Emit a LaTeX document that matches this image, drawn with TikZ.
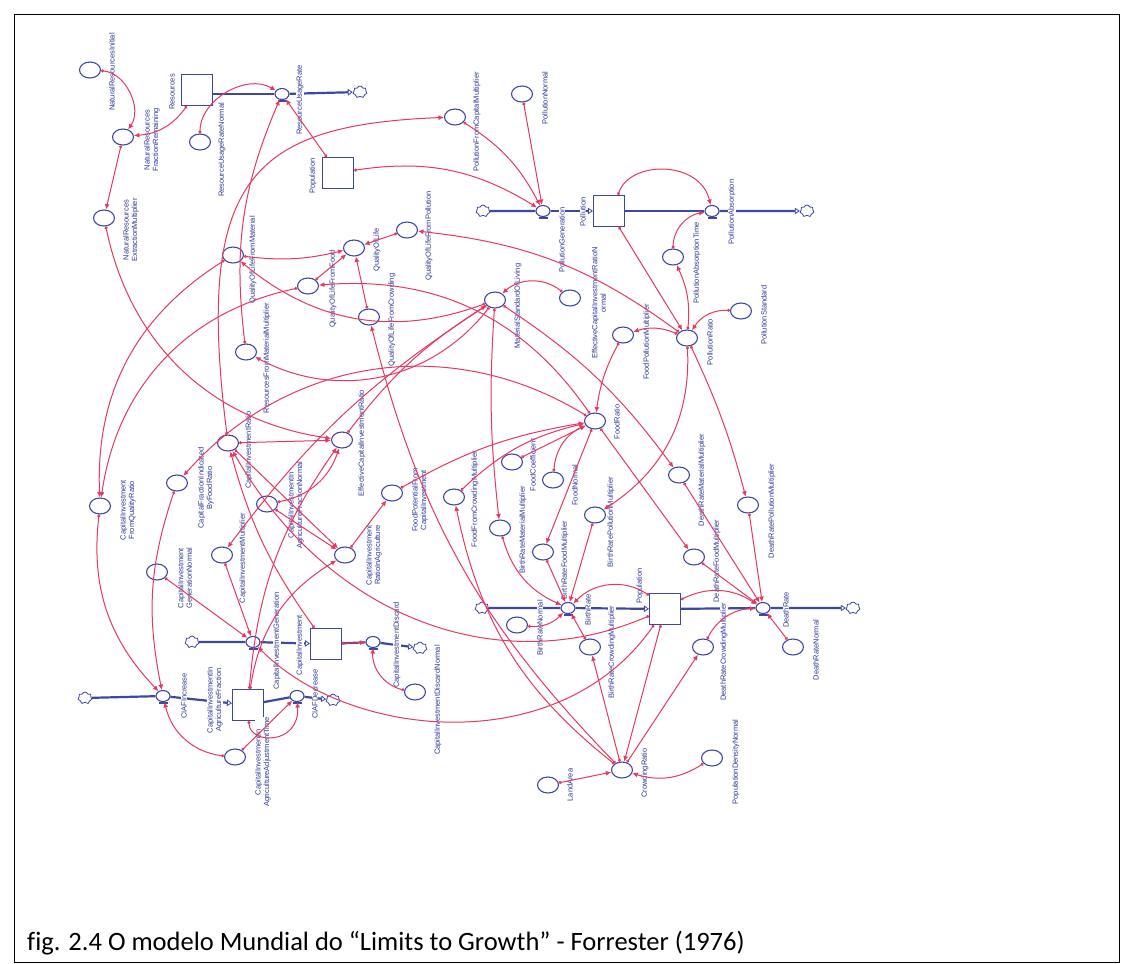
\documentclass[tikz,border=0pt]{standalone}
\usepackage{fontspec}
\setmainfont{Liberation Sans}
\newfontfamily\capfont[Ligatures=NoCommon]{Carlito}
\newfontfamily\lblfont{Liberation Sans}
\usetikzlibrary{arrows.meta,shapes.geometric,shapes.symbols}
\definecolor{cblue}{RGB}{62,72,160}
\definecolor{ctext}{RGB}{45,55,150}
\definecolor{cred}{RGB}{232,56,96}
\newcommand{\valvebase}[1]{\draw[cblue,line width=1.6pt] ([xshift=-4.5pt,yshift=-1.2pt]#1.south) -- ([xshift=4.5pt,yshift=-1.2pt]#1.south);}
\begin{document}
\begin{tikzpicture}[x=1pt,y=-1pt,
  aux/.style={ellipse,draw=cblue,line width=1.1pt,minimum width=21pt,minimum height=16pt,inner sep=0pt},
  stock/.style={rectangle,draw=cblue,line width=1.1pt,minimum width=31pt,minimum height=31pt,inner sep=0pt},
  valve/.style={ellipse,draw=cblue,line width=1.1pt,minimum width=14pt,minimum height=11pt,inner sep=0pt,fill=white},
  cloudsym/.style={cloud,cloud puffs=7,aspect=1.2,draw=cblue,line width=0.8pt,minimum width=14pt,minimum height=12pt,inner sep=0pt,fill=white},
  lbl/.style={rotate=90,text=ctext,font=\lblfont\fontsize{7.5}{8.5}\selectfont,inner sep=0.5pt,fill=white,align=center},
  conn/.style={draw=cred,line width=1pt,{Circle[open,length=3pt,width=3pt]}-{Latex[length=5.5pt,width=5pt]}},
  pipe/.style={draw=cblue,line width=2.2pt},
  pipea/.style={draw=cblue,line width=2.2pt,-{Triangle[open,length=5pt,width=6.5pt,line width=0.8pt]}}
]
\useasboundingbox (0,0) rectangle (1133,964);
\fill[white] (0,0) rectangle (1133,964);
\draw[line width=1pt] (14,14) rectangle (1119,962);
\node[anchor=base west,font=\capfont\fontsize{26.5}{30}\selectfont,inner sep=0pt] (cap) at (27,950) {fig. 2.4 O modelo Mundial do “Limits to Growth” - Forrester (1976)};

% auxiliaries
\node[aux] (nri) at (90,70) {};
\node[aux] (nrfr) at (123,137) {};
\node[aux] (nrem) at (104,218) {};
\node[aux] (rurn) at (200,142) {};
\node[aux] (pfcm) at (455,117) {};
\node[aux] (poln) at (522,94) {};
\node[aux] (polat) at (673,257) {};
\node[aux] (pols) at (741,311) {};
\node[aux] (fpm) at (623,335) {};
\node[aux] (polr) at (687,338) {};
\node[aux] (qlm) at (233,255) {};
\node[aux] (ql) at (354,248) {};
\node[aux] (qlp) at (407,230) {};
\node[aux] (qlf) at (308,286) {};
\node[aux] (qlc) at (369,317) {};
\node[aux] (msl) at (495,300) {};
\node[aux] (ecirn) at (570,298) {};
\node[aux] (rfmm) at (246,352) {};
\node[aux] (ecir) at (342,440) {};
\node[aux] (cir) at (228,443) {};
\node[aux] (ciqr) at (100,506) {};
\node[aux] (cfifr) at (177,483) {};
\node[aux] (ciafn) at (267,504) {};
\node[aux] (cim) at (222,555) {};
\node[aux] (cign) at (157,572) {};
\node[aux] (cira) at (345,555) {};
\node[aux] (fpci) at (392,493) {};
\node[aux] (fcm) at (454,497) {};
\node[aux] (fc) at (512,462) {};
\node[aux] (fn) at (553,480) {};
\node[aux] (brmm) at (500,528) {};
\node[aux] (brfm) at (543,552) {};
\node[aux] (brpm) at (595,515) {};
\node[aux] (fr) at (595,421) {};
\node[aux] (drmm) at (679,475) {};
\node[aux] (drpm) at (748,505) {};
\node[aux] (drfm) at (694,557) {};
\node[aux] (drn) at (793,647) {};
\node[aux] (drcm) at (703,647) {};
\node[aux] (brcm) at (590,647) {};
\node[aux] (brn) at (517,625) {};
\node[aux] (cr) at (622,770) {};
\node[aux] (pdn) at (712,758) {};
\node[aux] (la) at (548,785) {};
\node[aux] (cidn) at (415,692) {};
\node[aux] (ciafat) at (235,757) {};

% stocks
\node[stock] (res) at (197,90) {};
\node[stock] (popg) at (338,173) {};
\node[stock] (pol) at (609,211) {};
\node[stock] (pop) at (665,609) {};
\node[stock] (ci) at (326,644) {};
\node[stock] (ciaf) at (248,705) {};

% valves
\node[valve] (rur) at (282,94) {};
\node[valve] (polg) at (543,211) {};
\node[valve] (pola) at (712,211) {};
\node[valve] (br) at (568,608) {};
\node[valve] (dr) at (763,608) {};
\node[valve] (cig) at (253,642) {};
\node[valve] (cid) at (373,642) {};
\node[valve] (ciafi) at (163,696) {};
\node[valve] (ciafd) at (297,696) {};
\valvebase{rur}\valvebase{polg}\valvebase{pola}\valvebase{br}\valvebase{dr}\valvebase{cig}\valvebase{cid}\valvebase{ciafi}\valvebase{ciafd}

% clouds
\node[cloudsym] (c1) at (360,92) {};
\node[cloudsym] (c2) at (483,211) {};
\node[cloudsym] (c3) at (807,211) {};
\node[cloudsym] (c4) at (482,608) {};
\node[cloudsym] (c5) at (853,608) {};
\node[cloudsym] (c6) at (192,642) {};
\node[cloudsym] (c7) at (420,648) {};
\node[cloudsym] (c8) at (85,698) {};
\node[cloudsym] (c9) at (333,700) {};

% pipes
\draw[pipe] (res.east |- rur) -- (rur);
\draw[pipea] (rur) -- (c1);
\draw[pipe] (c2) -- (polg);
\draw[pipea] (polg) -- (pol);
\draw[pipe] (pol) -- (pola);
\draw[pipea] (pola) -- (c3);
\draw[pipe] (c4) -- (br);
\draw[pipea] (br) -- (pop);
\draw[pipe] (pop) -- (dr);
\draw[pipea] (dr) -- (c5);
\draw[pipe] (c6) -- (cig);
\draw[pipea] (cig) -- (ci);
\draw[pipe] (ci) -- (cid);
\draw[pipea] (cid) -- (c7);
\draw[pipe] (c8) -- (ciafi);
\draw[pipea] (ciafi) -- (ciaf);
\draw[pipe] (ciaf) -- (ciafd);
\draw[pipea] (ciafd) -- (c9);

% labels
\node[lbl] (l-nri) at (112,72) {NaturalResourcesInitial};
\node[lbl] (l-nrfr) at (152,140) {NaturalResources\\FractionRemaining};
\node[lbl] (l-nrem) at (131,230) {NaturalResources\\ExtractionMultiplier};
\node[lbl] (l-rurn) at (222,150) {ResourceUsageRateNormal};
\node[lbl] (l-pfcm) at (477,122) {PollutionFromCapitalMultiplier};
\node[lbl] (l-poln) at (545,98) {PollutionNormal};
\node[lbl] (l-polat) at (697,263) {PollutionAbsorptionTime};
\node[lbl] (l-pols) at (764,315) {PollutionStandard};
\node[lbl] (l-fpm) at (647,342) {FoodPollutionMultiplier};
\node[lbl] (l-polr) at (710,342) {PollutionRatio};
\node[lbl] (l-qlm) at (253,260) {QualityOfLifeFromMaterial};
\node[lbl] (l-ql) at (377,250) {QualityOfLife};
\node[lbl] (l-qlp) at (429,236) {QualityOfLifeFromPollution};
\node[lbl] (l-qlf) at (333,289) {QualityOfLifeFromFood};
\node[lbl] (l-qlc) at (392,320) {QualityOfLifeFromCrowding};
\node[lbl] (l-msl) at (518,306) {MaterialStandardOfLiving};
\node[lbl] (l-ecirn) at (599,303) {EffectiveCapitalInvestmentRatioN\\ormal};
\node[lbl] (l-rfmm) at (267,358) {ResourcesFromMaterialMultiplier};
\node[lbl] (l-ecir) at (362,443) {EffectiveCapitalInvestmentRatio};
\node[lbl] (l-cir) at (249,450) {CapitalInvestmentRatio};
\node[lbl] (l-ciqr) at (128,510) {CapitalInvestment\\FromQualityRatio};
\node[lbl] (l-cfifr) at (206,488) {CapitalFractionIndicated\\ByFoodRatio};
\node[lbl] (l-ciafn) at (296,505) {CapitalInvestmentIn\\AgricultureFractionNormal};
\node[lbl] (l-cim) at (243,558) {CapitalInvestmentMultiplier};
\node[lbl] (l-cign) at (185,578) {CapitalInvestment\\GenerationNormal};
\node[lbl] (l-cira) at (374,555) {CapitalInvestment\\RatioInAgriculture};
\node[lbl] (l-fpci) at (420,500) {FoodPotentialFrom\\CapitalInvestment};
\node[lbl] (l-fcm) at (475,499) {FoodFromCrowdingMultiplier};
\node[lbl] (l-fc) at (533,465) {FoodCoefficient};
\node[lbl] (l-fn) at (575,485) {FoodNormal};
\node[lbl] (l-brmm) at (523,530) {BirthRateMaterialMultiplier};
\node[lbl] (l-brfm) at (565,560) {BirthRateFoodMultiplier};
\node[lbl] (l-brpm) at (611,522) {BirthRatePollutionMultiplier};
\node[lbl] (l-fr) at (617,422) {FoodRatio};
\node[lbl] (l-drmm) at (702,480) {DeathRateMaterialMultiplier};
\node[lbl] (l-drpm) at (772,511) {DeathRatePollutionMultiplier};
\node[lbl] (l-drfm) at (717,561) {DeathRateFoodMultiplier};
\node[lbl] (l-drn) at (816,650) {DeathRateNormal};
\node[lbl] (l-drcm) at (724,652) {DeathRateCrowdingMultiplier};
\node[lbl] (l-brcm) at (612,652) {BirthRateCrowdingMultiplier};
\node[lbl] (l-brn) at (540,628) {BirthRateNormal};
\node[lbl] (l-cr) at (645,773) {CrowdingRatio};
\node[lbl] (l-pdn) at (736,762) {PopulationDensityNormal};
\node[lbl] (l-la) at (570,785) {LandArea};
\node[lbl] (l-cidn) at (438,700) {CapitalInvestmentDiscardNormal};
\node[lbl] (l-ciafat) at (263,762) {CapitalInvestmentIn\\AgricultureAdjustmentTime};
\node[lbl] (l-res) at (172,92) {Resources};
\node[lbl] (l-popg) at (313,176) {Population};
\node[lbl] (l-pol) at (583,212) {Pollution};
\node[lbl] (l-pop) at (640,586) {Population};
\node[lbl] (l-ci) at (300,645) {CapitalInvestment};
\node[lbl] (l-ciaf) at (215,700) {CapitalInvestmentIn\\AgricultureFraction};
\node[lbl] (l-rur) at (300,100) {ResourceUsageRate};
\node[lbl] (l-polg) at (562,240) {PollutionGeneration};
\node[lbl] (l-pola) at (732,212) {PollutionAbsorption};
\node[lbl] (l-br) at (588,610) {BirthRate};
\node[lbl] (l-dr) at (786,610) {DeathRate};
\node[lbl] (l-cig) at (277,641) {CapitalInvestmentGeneration};
\node[lbl] (l-cid) at (397,645) {CapitalInvestmentDiscard};
\node[lbl] (l-ciafi) at (184,696) {CIAFIncrease};
\node[lbl] (l-ciafd) at (315,694) {CIAFDecrease};

% connectors
\draw[conn] (nri) to[bend left=60] (nrfr);
\draw[conn] (res) to[bend left=25] (nrfr);
\draw[conn] (nrfr) -- (nrem);
\draw[conn] (rurn) to[bend left=60] (rur);
\draw[conn] (popg) -- (rur);
\draw[conn] (rfmm) to[bend left=15] (rur);
\draw[conn] (popg) to[bend left=20] (polg);
\draw[conn] (pfcm) to[bend left=15] (polg);
\draw[conn] (poln) -- (polg);
\draw[conn] (cir) .. controls (195,180) and (250,125) .. (pfcm);
\draw[conn] ([xshift=9pt]pol.north) .. controls (630,160) and (700,160) .. (pola);
\draw[conn] (polat) to[bend left=40] (pola);
\draw[conn] (pol) -- (polr);
\draw[conn] (pols) to[bend right=30] (polr);
\draw[conn] (polr) to[bend right=15] (polat);
\draw[conn] (polr) to[bend right=20] (fpm);
\draw[conn] (polr) to[bend right=15] (qlp);
\draw[conn] (polr) to[bend left=30] (brpm);
\draw[conn] (polr) to[bend left=5] (drpm);
\draw[conn] (fpm) to[bend right=10] (fr);
\draw[conn] (nrem) to[bend right=35] (ecir);
\draw[conn] (cir) -- (ecir);
\draw[conn] (ciaf) to[bend left=15] (ecir);
\draw[conn] (ciafn) to[bend right=30] (ecir);
\draw[conn] (ecir) to[bend left=10] (msl);
\draw[conn] (ecirn) to[bend right=40] (msl);
\draw[conn] (msl) to[bend left=40] (rfmm);
\draw[conn] (msl) to[bend left=30] (qlm);
\draw[conn] (msl) to[bend right=5] (brmm);
\draw[conn] (msl) to[bend left=10] (drmm);
\draw[conn] (msl) to[bend right=10] (cim);
\draw[conn] (ci) to[bend left=10] (cir);
\draw[conn] (pop) .. controls (500,680) and (330,620) .. (cir);
\draw[conn] (pop) .. controls (560,760) and (350,740) .. (cig);
\draw[conn] (qlc) -- (ql);
\draw[conn] (qlp) -- (ql);
\draw[conn] (qlf) -- (ql);
\draw[conn] (qlm) to[bend right=10] (ql);
\draw[conn] (qlm) to[bend right=30] (ciqr);
\draw[conn] (qlf) to[bend right=35] (ciqr);
\draw[conn] (fr) to[bend right=30] (qlf);
\draw[conn] (fr) -- (brfm);
\draw[conn] (fr) -- (drfm);
\draw[conn] (fr) to[bend right=40] (cfifr);
\draw[conn] (fpci) to[bend left=10] (fr);
\draw[conn] (fcm) to[bend left=15] (fr);
\draw[conn] (fc) -- (fr);
\draw[conn] (fn) to[bend left=30] (fr);
\draw[conn] (cira) -- (fpci);
\draw[conn] (cir) -- (cira);
\draw[conn] (ciaf) to[bend left=25] (cira);
\draw[conn] (ciafn) -- (cira);
\draw[conn] (cr) -- (brcm);
\draw[conn] (cr) -- (drcm);
\draw[conn] (cr) to[bend left=20] (fcm);
\draw[conn] (cr) to[bend left=15] (qlc);
\draw[conn] (pop) -- (cr);
\draw[conn] (la) -- (cr);
\draw[conn] (pdn) to[bend left=25] (cr);
\draw[conn] (brn) to[bend right=25] (br);
\draw[conn] (brfm) -- (br);
\draw[conn] (brmm) to[bend right=25] (br);
\draw[conn] (brcm) -- (br);
\draw[conn] (brpm) -- (br);
\draw[conn] (pop) to[bend right=40] (br);
\draw[conn] (drn) -- (dr);
\draw[conn] (drcm) to[bend left=30] (dr);
\draw[conn] (drfm) -- (dr);
\draw[conn] (drmm) -- (dr);
\draw[conn] (drpm) -- (dr);
\draw[conn] (pop) to[bend left=30] (dr);
\draw[conn] (cign) -- (cig);
\draw[conn] (cim) -- (cig);
\draw[conn] (ci) -- (cid);
\draw[conn] (cidn) to[bend left=40] (cid);
\draw[conn] (cfifr) to[bend right=15] (ciafi);
\draw[conn] (ciqr) to[bend right=25] (ciafi);
\draw[conn] (ciafat) to[bend left=35] (ciafi);
\draw[conn] (ciaf) .. controls (250,745) and (300,745) .. (ciafd);
\draw[conn] (ciafat) -- (ciafd);
\end{tikzpicture}
\end{document}
